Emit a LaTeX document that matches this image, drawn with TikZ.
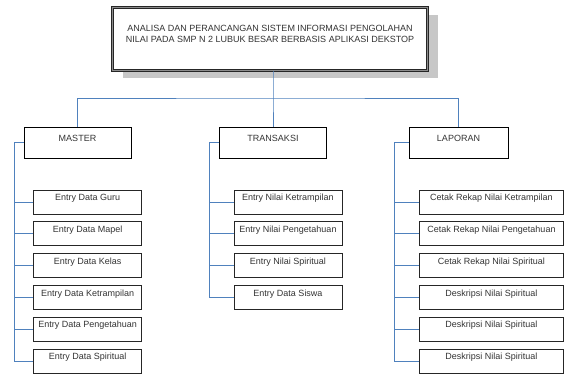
\documentclass[tikz,border=0pt]{standalone}
\usepackage{fontspec}
\setmainfont{Liberation Sans}
\usetikzlibrary{shadows}
\definecolor{biru}{RGB}{79,129,189}

\begin{document}
\begin{tikzpicture}[x=1pt,y=-1pt,
    garis/.style={draw=biru,line width=0.8pt},
    teks/.style={font=\fontsize{9}{11}\selectfont,text=black!80},
    judulbox/.style={draw=black!85,line width=0.6pt,double=black!45,double distance=0.9pt,
        minimum width=315pt,minimum height=63pt,inner sep=0pt,fill=white,
        drop shadow={shadow xshift=10pt,shadow yshift=-8pt,fill=black!22,opacity=1}},
    menu/.style={teks,draw=black,line width=0.7pt,minimum height=31pt,inner sep=0pt,
        text height=14.2pt,text depth=16.8pt},
    submenu/.style={teks,draw=black!85,line width=0.8pt,minimum height=24pt,inner sep=0pt,
        text height=10.8pt,text depth=13.2pt}]
                \useasboundingbox (0,0) rectangle (566,374);
                % judul
                \node[judulbox] (judul) at (270,39) {};
                \node[teks,align=center,inner sep=0pt] (judulteks) at (270,34.4)
                    {ANALISA DAN PERANCANGAN SISTEM INFORMASI PENGOLAHAN\\NILAI PADA SMP N 2 LUBUK BESAR BERBASIS APLIKASI DEKSTOP};
                % menu utama
                \node[menu,minimum width=107pt] (master) at (77.5,142.5) {MASTER};
                \node[menu,minimum width=107pt] (transaksi) at (273,142.5) {TRANSAKSI};
                \node[menu,minimum width=99pt] (laporan) at (458.5,142.5) {LAPORAN};
                \coordinate (cabang) at (273,98);
                \draw[garis] (judul.south -| transaksi.north)--(cabang)--(transaksi.north)
                    (master.north) |- (cabang) -| (laporan.north);
                % submenu
                \foreach \teks [count=\i] in {Entry Data Guru,Entry Data Mapel,Entry Data Kelas,
                        Entry Data Ketrampilan,Entry Data Pengetahuan,Entry Data Spiritual}
                    \node[submenu,minimum width=108pt] (m\i) at (87.6,{202+31.8*(\i-1)}) {\teks};
                \foreach \teks [count=\i] in {Entry Nilai Ketrampilan,Entry Nilai Pengetahuan,
                        Entry Nilai Spiritual,Entry Data Siswa}
                    \node[submenu,minimum width=108pt] (t\i) at (288,{202+31.8*(\i-1)}) {\teks};
                \foreach \teks [count=\i] in {Cetak Rekap Nilai Ketrampilan,Cetak Rekap Nilai Pengetahuan,
                        Cetak Rekap Nilai Spiritual,Deskripsi Nilai Spiritual,
                        Deskripsi Nilai Spiritual,Deskripsi Nilai Spiritual}
                    \node[submenu,minimum width=144pt] (l\i) at (491.5,{202+31.8*(\i-1)}) {\teks};
                \coordinate (mkiri) at (14,142.5);
                \coordinate (tkiri) at (209.5,142.5);
                \coordinate (lkiri) at (394,142.5);
                \draw[garis] (master.west)--(mkiri) |- (m6.west)
                    (transaksi.west)--(tkiri) |- (t4.west)
                    (laporan.west)--(lkiri) |- (l6.west);
                \foreach \i in {1,...,5}
                    \draw[garis] (mkiri |- m\i.west)--(m\i.west) (lkiri |- l\i.west)--(l\i.west);
                \foreach \i in {1,2,3}
                    \draw[garis] (tkiri |- t\i.west)--(t\i.west);
            \end{tikzpicture}
\end{document}
